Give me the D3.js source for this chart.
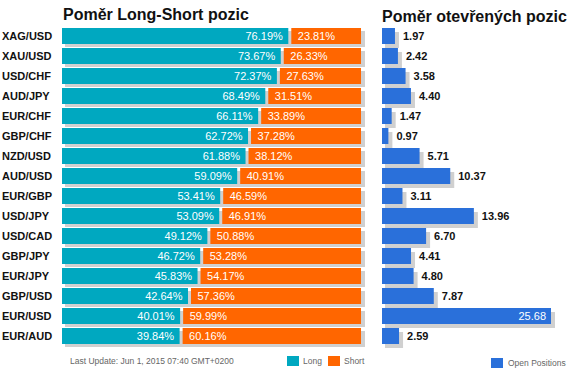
<!DOCTYPE html>
<html><head><meta charset="utf-8">
<script src="https://cdn.jsdelivr.net/npm/d3@7"></script>
<style>body{margin:0;background:#fff}svg{display:block;font-family:Arial,"Liberation Sans",sans-serif}</style>
</head><body>
<svg id="c" width="580" height="390"></svg>
<script>
const pairs = ["XAG/USD","XAU/USD","USD/CHF","AUD/JPY","EUR/CHF","GBP/CHF","NZD/USD","AUD/USD","EUR/GBP","USD/JPY","USD/CAD","GBP/JPY","EUR/JPY","GBP/USD","EUR/USD","EUR/AUD"];
const longPct = [76.19,73.67,72.37,68.49,66.11,62.72,61.88,59.09,53.41,53.09,49.12,46.72,45.83,42.64,40.01,39.84];
const shortPct = [23.81,26.33,27.63,31.51,33.89,37.28,38.12,40.91,46.59,46.91,50.88,53.28,54.17,57.36,59.99,60.16];
const openPos = [1.97,2.42,3.58,4.40,1.47,0.97,5.71,10.37,3.11,13.96,6.70,4.41,4.80,7.87,25.68,2.59];
const titles = ["Poměr Long-Short pozic","Poměr otevřených pozic"];
const legendLS = ["Long","Short"];
const legendOP = "Open Positions";
const updateText = "Last Update: Jun 1, 2015 07:40 GMT+0200";

const TEAL="#00a8c0", ORANGE="#ff6600", BLUE="#2a70da", SHADOW="#d0d0d0";
const svg = d3.select("#c");

const y = d3.scaleBand().domain(pairs).range([28, 344]).paddingInner(0.2).paddingOuter(0);
const xL = d3.scaleLinear().domain([0,100]).range([62,361]);
const xR = d3.scaleLinear().domain([0,25.68]).range([382,551]);

// titles
svg.append("text").attr("x",63).attr("y",20).attr("font-size",16).attr("font-weight","bold").attr("fill","#111").text(titles[0]);
svg.append("text").attr("x",382).attr("y",22).attr("font-size",16).attr("font-weight","bold").attr("fill","#111").text(titles[1]);

// left chart
const gL = svg.append("g");
const rows = gL.selectAll("g.row").data(pairs).join("g").attr("class","row");
rows.append("rect").attr("x",xL(0)+3).attr("y",d=>y(d)+3)
  .attr("width",xL(100)-xL(0)+1).attr("height",y.bandwidth()).attr("fill",SHADOW);
rows.append("rect").attr("x",xL(0)).attr("y",d=>y(d))
  .attr("width",(d,i)=>xL(longPct[i])-xL(0)-1.5).attr("height",y.bandwidth()).attr("fill",TEAL);
rows.append("rect").attr("x",(d,i)=>xL(longPct[i])+1.5).attr("y",d=>y(d))
  .attr("width",(d,i)=>xL(100)-xL(longPct[i])-1.5).attr("height",y.bandwidth()).attr("fill",ORANGE);
rows.append("text").attr("x",(d,i)=>xL(longPct[i])-7).attr("y",d=>y(d)+y.bandwidth()/2+4)
  .attr("text-anchor","end").attr("font-size",11).attr("fill","#fff")
  .text((d,i)=>longPct[i].toFixed(2)+"%");
rows.append("text").attr("x",(d,i)=>xL(longPct[i])+8).attr("y",d=>y(d)+y.bandwidth()/2+4)
  .attr("font-size",11).attr("fill","#fff")
  .text((d,i)=>shortPct[i].toFixed(2)+"%");
rows.append("text").attr("x",2).attr("y",d=>y(d)+y.bandwidth()/2+4)
  .attr("font-size",11).attr("font-weight","bold").attr("fill","#111").text(d=>d);

// right chart
const rowsR = svg.append("g").selectAll("g").data(pairs).join("g");
rowsR.append("rect").attr("x",xR(0)+3).attr("y",d=>y(d)+4)
  .attr("width",(d,i)=>xR(openPos[i])-xR(0)+1).attr("height",y.bandwidth()).attr("fill",SHADOW);
rowsR.append("rect").attr("x",xR(0)).attr("y",d=>y(d))
  .attr("width",(d,i)=>xR(openPos[i])-xR(0)).attr("height",y.bandwidth()).attr("fill",BLUE);
rowsR.append("text")
  .attr("x",(d,i)=> openPos[i]>20 ? xR(openPos[i])-5 : xR(openPos[i])+8)
  .attr("y",d=>y(d)+y.bandwidth()/2+4)
  .attr("text-anchor",(d,i)=>openPos[i]>20?"end":"start")
  .attr("font-size",11).attr("font-weight",(d,i)=>openPos[i]>20?"normal":"bold")
  .attr("fill",(d,i)=>openPos[i]>20?"#fff":"#111")
  .text((d,i)=>openPos[i].toFixed(2));

// footer
svg.append("text").attr("x",70).attr("y",364).attr("font-size",8.5).attr("fill","#666").text(updateText);
const lg = [[287,TEAL,legendLS[0]],[328,ORANGE,legendLS[1]]];
lg.forEach(([x,c,t])=>{
  svg.append("rect").attr("x",x).attr("y",356).attr("width",12).attr("height",10).attr("fill",c);
  svg.append("text").attr("x",x+16).attr("y",364).attr("font-size",8.5).attr("fill","#666").text(t);
});
svg.append("rect").attr("x",491).attr("y",358).attr("width",12).attr("height",10).attr("fill",BLUE);
svg.append("text").attr("x",508).attr("y",366).attr("font-size",8.5).attr("fill","#666").text(legendOP);
</script>
</body></html>
